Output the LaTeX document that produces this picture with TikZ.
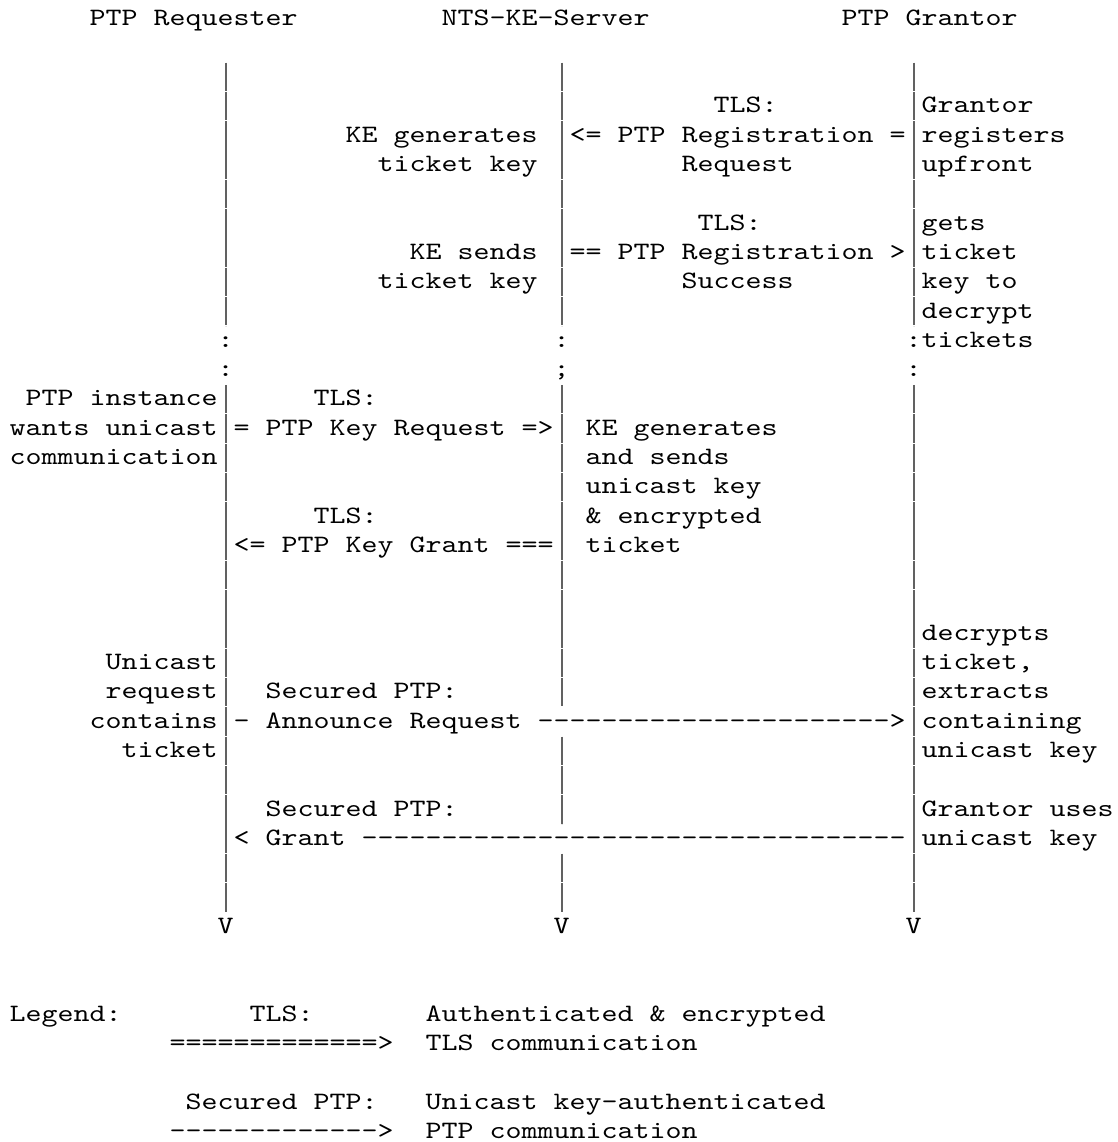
\documentclass[tikz,border=0pt]{standalone}
\usepackage{fontspec}
% Latin Modern typewriter, widened so that one character cell is 8pt
\setmonofont{lmmono10-regular.otf}[FakeStretch=1.219]

\tikzset{
  % character grid: x = one column (8pt), y = one text row (14.65pt, downwards)
  txt/.style={anchor=base west, inner sep=0pt, outer sep=0pt,
    font=\ttfamily\fontsize{12.5pt}{14.65pt}\selectfont},
  mid/.style={txt, anchor=base},
  lifeline/.style={draw=black!62, line width=0.8pt,
    dash pattern=on 14.25pt off 0.4pt}
}

\begin{document}
\begin{tikzpicture}[x=8pt, y=-14.65pt]
\useasboundingbox (-4.85pt,12.5pt) rectangle (554.15pt,-558.5pt);

% ---------- participants ----------
\node[txt] (hreq) at (5,0)  {PTP Requester};
\node[txt] (hkes) at (27,0) {NTS-KE-Server};
\node[txt] (hgra) at (52,0) {PTP Grantor};

% ---------- lifelines ----------
\coordinate (reqA) at (13.5,1.283);  \coordinate (reqB) at (13.5,10.283);
\coordinate (reqC) at (13.5,12.283); \coordinate (reqD) at (13.5,30.283);
\coordinate (kesA) at (34.5,1.283);  \coordinate (kesB) at (34.5,10.283);
\coordinate (kesC) at (34.5,12.283); \coordinate (kesD) at (34.5,23.283);
\coordinate (kesE) at (34.5,24.283); \coordinate (kesF) at (34.5,27.283);
\coordinate (kesG) at (34.5,28.283); \coordinate (kesH) at (34.5,30.283);
\coordinate (graA) at (56.5,1.283);  \coordinate (graB) at (56.5,10.283);
\coordinate (graC) at (56.5,12.283); \coordinate (graD) at (56.5,30.283);

\draw[lifeline] (reqA) -- (reqB);
\draw[lifeline] (reqC) -- (reqD);
\draw[lifeline] (kesA) -- (kesB);
\draw[lifeline] (kesC) -- (kesD);
\draw[lifeline] (kesE) -- (kesF);
\draw[lifeline] (kesG) -- (kesH);
\draw[lifeline] (graA) -- (graB);
\draw[lifeline] (graC) -- (graD);

% ---------- registration of the grantor ----------
\node[txt] (tls1)   at (44,3) {TLS:};
\node[txt] (gnote1) at (57,3) {Grantor};
\node[txt] (kgen1)  at (21,4) {KE generates};
\node[txt] (regreq) at (35,4) {<= PTP Registration =};
\node[txt] (gnote2) at (57,4) {registers};
\node[txt] (kgen2)  at (23,5) {ticket key};
\node[txt] (regreq2) at (42,5) {Request};
\node[txt] (gnote3) at (57,5) {upfront};

\node[txt] (tls2)   at (43,7) {TLS:};
\node[txt] (gnote4) at (57,7) {gets};
\node[txt] (ksend1) at (25,8) {KE sends};
\node[txt] (regok)  at (35,8) {== PTP Registration >};
\node[txt] (gnote5) at (57,8) {ticket};
\node[txt] (ksend2) at (23,9) {ticket key};
\node[txt] (regok2) at (42,9) {Success};
\node[txt] (gnote6) at (57,9) {key to};
\node[txt] (gnote7) at (57,10) {decrypt};

% ---------- time gap ----------
\node[mid] (gapreq1) at (13.5,11) {:};
\node[mid] (gapkes1) at (34.5,11) {:};
\node[txt] (gnote8)  at (56,11)   {:tickets};
\node[mid] (gapreq2) at (13.5,12) {:};
\node[mid] (gapkes2) at (34.5,12) {;};
\node[mid] (gapgra2) at (56.5,12) {:};

% ---------- key request / grant ----------
\node[txt] (rnote1) at (1,13)  {PTP instance};
\node[txt] (tls3)   at (19,13) {TLS:};
\node[txt] (rnote2) at (0,14)  {wants unicast};
\node[txt] (keyreq) at (14,14) {= PTP Key Request =>};
\node[txt] (knote1) at (36,14) {KE generates};
\node[txt] (rnote3) at (0,15)  {communication};
\node[txt] (knote2) at (36,15) {and sends};
\node[txt] (knote3) at (36,16) {unicast key};
\node[txt] (tls4)   at (19,17) {TLS:};
\node[txt] (knote4) at (36,17) {\& encrypted};
\node[txt] (keygr)  at (14,18) {<= PTP Key Grant ===};
\node[txt] (knote5) at (36,18) {ticket};

% ---------- secured unicast exchange ----------
\node[txt] (gnote9)  at (57,21) {decrypts};
\node[txt] (rnote4)  at (6,22)  {Unicast};
\node[txt] (gnote10) at (57,22) {ticket,};
\node[txt] (rnote5)  at (6,23)  {request};
\node[txt] (sec1)    at (16,23) {Secured PTP:};
\node[txt] (gnote11) at (57,23) {extracts};
\node[txt] (rnote6)  at (5,24)  {contains};
\node[txt] (annreq)  at (14,24) {- Announce Request ---------------------->};
\node[txt] (gnote12) at (57,24) {containing};
\node[txt] (rnote7)  at (7,25)  {ticket};
\node[txt] (gnote13) at (57,25) {unicast key};

\node[txt] (sec2)    at (16,27) {Secured PTP:};
\node[txt] (gnote14) at (57,27) {Grantor uses};
\node[txt] (grant)   at (14,28) {< Grant ----------------------------------};
\node[txt] (gnote15) at (57,28) {unicast key};

% ---------- lifeline ends ----------
\node[mid] (endreq) at (13.5,31) {V};
\node[mid] (endkes) at (34.5,31) {V};
\node[mid] (endgra) at (56.5,31) {V};

% ---------- legend ----------
\node[txt] (leg)    at (0,34)  {Legend:};
\node[txt] (legt1)  at (15,34) {TLS:};
\node[txt] (legd1)  at (26,34) {Authenticated \& encrypted};
\node[txt] (lega1)  at (10,35) {=============>};
\node[txt] (legd2)  at (26,35) {TLS communication};
\node[txt] (legt2)  at (11,37) {Secured PTP:};
\node[txt] (legd3)  at (26,37) {Unicast key-authenticated};
\node[txt] (lega2)  at (10,38) {------------->};
\node[txt] (legd4)  at (26,38) {PTP communication};
\end{tikzpicture}
\end{document}
